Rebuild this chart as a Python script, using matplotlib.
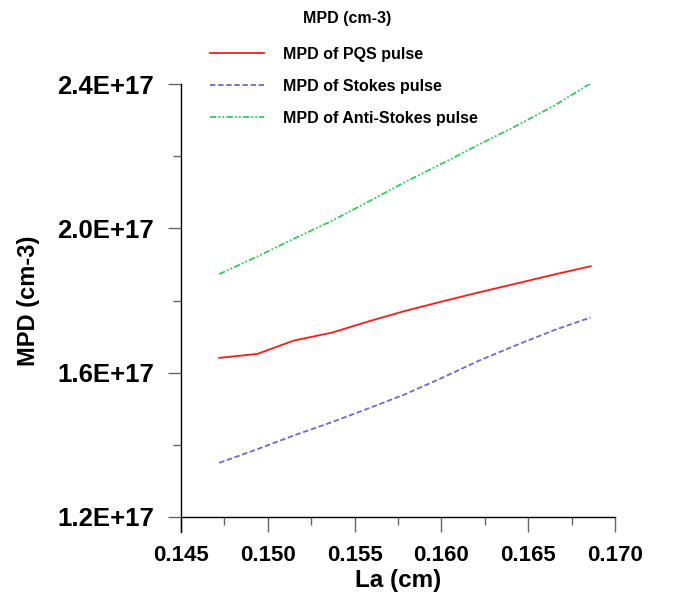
import matplotlib
matplotlib.use("Agg")
import matplotlib.pyplot as plt
from matplotlib.ticker import FormatStrFormatter, MultipleLocator

plt.rcParams['font.family'] = ['Liberation Sans', 'DejaVu Sans']
plt.rcParams['font.weight'] = 'bold'

# La (cm)
la = [0.1472, 0.1494, 0.1515, 0.1537, 0.1558, 0.1579,
      0.1601, 0.1622, 0.1644, 0.1665, 0.1686]

# MPD (cm^-3), in units of 1E+17
mpd_pqs = [1.641, 1.652, 1.689, 1.711, 1.742, 1.771,
           1.798, 1.823, 1.848, 1.872, 1.895]
mpd_stokes = [1.350, 1.388, 1.426, 1.463, 1.501, 1.540,
              1.587, 1.634, 1.678, 1.718, 1.753]
mpd_anti = [1.873, 1.922, 1.971, 2.021, 2.074, 2.128,
            2.181, 2.233, 2.286, 2.340, 2.402]

series_labels = ["MPD of PQS pulse", "MPD of Stokes pulse",
                 "MPD of Anti-Stokes pulse"]

scale = 1e17
W, H = 697, 597
fig = plt.figure(figsize=(W / 100, H / 100), dpi=100)
ax = fig.add_axes([181 / W, 1 - 517 / H, (615 - 181) / W, (517 - 84) / H])

ax.plot(la, [v * scale for v in mpd_pqs], color='#FF1A1A', lw=1.3,
        linestyle='-', label=series_labels[0])
ax.plot(la, [v * scale for v in mpd_stokes], color='#6A6AD2', lw=1.3,
        linestyle=(0, (3.0, 1.5)), label=series_labels[1])
ax.plot(la, [v * scale for v in mpd_anti], color='#2ECC5A', lw=1.3,
        linestyle=(0, (3.5, 1.2, 1, 1.2, 1, 1.2)), label=series_labels[2])

ax.set_xlim(0.145, 0.170)
ax.set_ylim(1.2e17, 2.4e17)

ax.xaxis.set_major_locator(MultipleLocator(0.005))
ax.xaxis.set_minor_locator(MultipleLocator(0.0025))
ax.yaxis.set_major_locator(MultipleLocator(0.4e17))
ax.yaxis.set_minor_locator(MultipleLocator(0.2e17))
ax.xaxis.set_major_formatter(FormatStrFormatter('%.3f'))
ax.yaxis.set_major_formatter(FormatStrFormatter('%.1E'))

for s in ('top', 'right'):
    ax.spines[s].set_visible(False)
ax.spines['left'].set_bounds(1.2e17 - 15 / 360.8 * 1e17, 2.4e17)
ax.spines['left'].set_linewidth(1.0)
ax.spines['bottom'].set_linewidth(1.0)

ax.tick_params(axis='x', which='major', direction='out', length=11,
               width=1, color='0.4', labelsize=16, pad=9.5)
ax.tick_params(axis='x', which='minor', direction='out', length=5.5,
               width=1, color='0.4')
ax.tick_params(axis='y', which='major', direction='out', length=9.5,
               width=1, color='0.4', labelsize=18.5, pad=10)
ax.tick_params(axis='y', which='minor', direction='out', length=5.5,
               width=1, color='0.4')
for lab in ax.get_xticklabels() + ax.get_yticklabels():
    lab.set_fontweight('bold')

ax.set_xlabel("La (cm)", fontsize=17.5, fontweight='bold', labelpad=2)
ax.set_ylabel("MPD (cm-3)", fontsize=17, fontweight='bold', labelpad=12)

fig.text(347 / W, 1 - 19 / H, "MPD (cm-3)", ha='center', va='center',
         fontsize=11.5, fontweight='bold')

leg = ax.legend(loc='upper left', bbox_to_anchor=(210 / W, 1 - 47 / H),
                bbox_transform=fig.transFigure, frameon=False,
                fontsize=11.5, handlelength=3.4, handletextpad=1.2,
                labelspacing=1.05, borderpad=0, borderaxespad=0)
for t in leg.get_texts():
    t.set_fontweight('bold')

fig.savefig("out.png", dpi=100)
